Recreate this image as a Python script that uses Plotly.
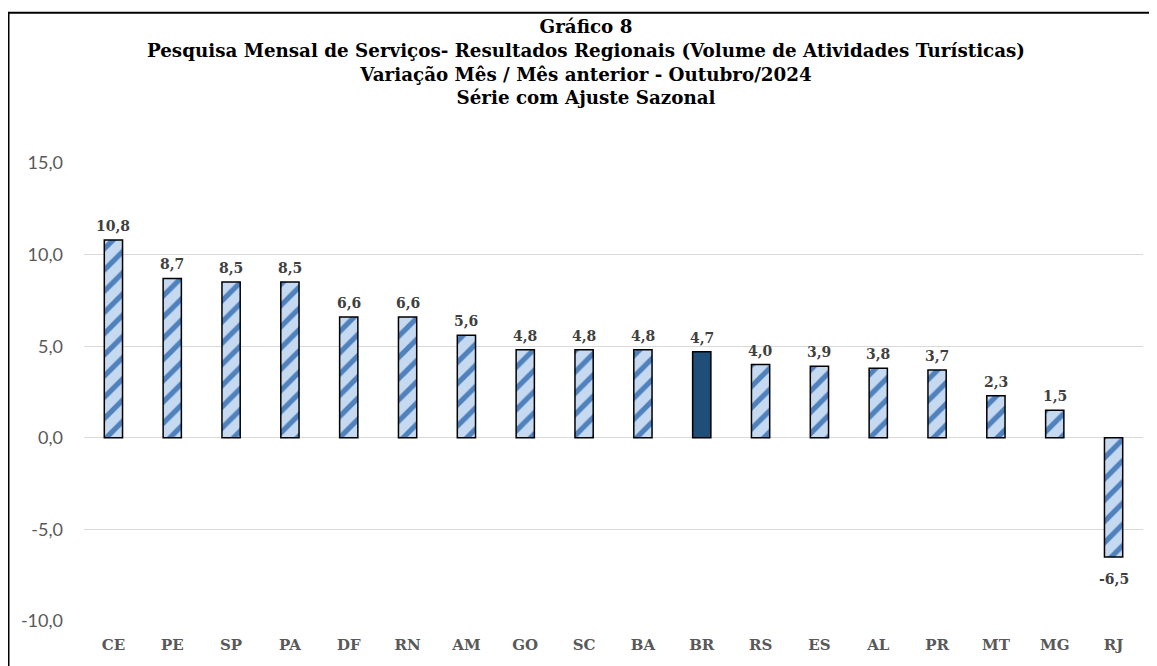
import plotly.graph_objects as go

categories = ["CE", "PE", "SP", "PA", "DF", "RN", "AM", "GO", "SC", "BA", "BR", "RS", "ES", "AL", "PR", "MT", "MG", "RJ"]
values = [10.8, 8.7, 8.5, 8.5, 6.6, 6.6, 5.6, 4.8, 4.8, 4.8, 4.7, 4.0, 3.9, 3.8, 3.7, 2.3, 1.5, -6.5]
highlight = "BR"
y_ticks = [-10, -5, 0, 5, 10, 15]
y_tick_labels = ["-10,0", "-5,0", "0,0", "5,0", "10,0", "15,0"]

title_lines = [
    "Gráfico 8",
    "Pesquisa Mensal de Serviços- Resultados Regionais (Volume de Atividades Turísticas)",
    "Variação Mês / Mês anterior - Outubro/2024",
    "Série com Ajuste Sazonal",
]

LIGHT = "#C5D9F1"
STRIPE = "#4F81BD"
DARK = "#1F4E79"

labels = [f"{v:.1f}".replace(".", ",") for v in values]
states_x = [c for c in categories if c != highlight]
states_y = [v for c, v in zip(categories, values) if c != highlight]
br_x = [c for c in categories if c == highlight]
br_y = [v for c, v in zip(categories, values) if c == highlight]

fig = go.Figure()
fig.add_trace(
    go.Bar(
        x=states_x,
        y=states_y,
        marker=dict(
            color=LIGHT,
            line=dict(color="#000000", width=1.5),
            pattern=dict(
                shape="/",
                fgcolor=STRIPE,
                bgcolor=LIGHT,
                fgopacity=1,
                size=15,
                solidity=0.35,
                fillmode="overlay",
            ),
        ),
        width=0.31,
        hoverinfo="x+y",
    )
)
fig.add_trace(
    go.Bar(
        x=br_x,
        y=br_y,
        marker=dict(color=DARK, line=dict(color="#000000", width=1.5)),
        width=0.31,
        hoverinfo="x+y",
    )
)

# data labels, placed on the axes at each bar's value
label_font = dict(family="DejaVu Serif", size=14, color="#404040", weight="bold")
for c, v, t in zip(categories, values, labels):
    fig.add_annotation(
        x=c,
        y=v,
        xref="x",
        yref="y",
        text=t,
        showarrow=False,
        font=label_font,
        yanchor="bottom" if v >= 0 else "top",
        yshift=4 if v >= 0 else -12,
    )

# The page body has an 8px margin; the figure is sized to fit the window.
W, H = 1149, 658
ml, mr, mt, mb = 76, 14, 155, 41
pw, ph = W - ml - mr, H - mt - mb


def px_to_paper_x(px):
    return (px - ml) / pw


def px_to_paper_y(py):
    return (H - mb - py) / ph


fig.update_layout(
    width=W,
    height=H,
    margin=dict(l=ml, r=mr, t=mt, b=mb),
    paper_bgcolor="white",
    plot_bgcolor="white",
    showlegend=False,
    barmode="overlay",
    title=dict(
        text="<br>".join(title_lines),
        x=578 / W,
        xref="container",
        xanchor="center",
        yref="container",
        y=1 - 25 / H,
        yanchor="top",
        font=dict(family="DejaVu Serif", size=18.3, color="#000000", weight="bold"),
    ),
    xaxis=dict(
        categoryorder="array",
        categoryarray=categories,
        showgrid=False,
        showline=False,
        tickfont=dict(family="DejaVu Serif", size=15, color="#595959", weight="bold"),
        ticklabelstandoff=13,
    ),
    yaxis=dict(
        range=[-10, 15],
        tickvals=y_ticks,
        ticktext=y_tick_labels,
        showgrid=True,
        gridcolor="#D9D9D9",
        gridwidth=1,
        zeroline=True,
        zerolinecolor="#D9D9D9",
        zerolinewidth=1,
        showline=False,
        tickfont=dict(family="Lato", size=18, color="#595959"),
        ticklabelstandoff=20,
    ),
    shapes=[
        dict(
            type="rect",
            xref="paper",
            yref="paper",
            x0=px_to_paper_x(0.5),
            x1=px_to_paper_x(W + 20),
            y0=px_to_paper_y(H + 20),
            y1=px_to_paper_y(3.5),
            line=dict(color="#000000", width=2),
            fillcolor="rgba(0,0,0,0)",
            layer="above",
        )
    ],
)

fig.write_html("out.html")
